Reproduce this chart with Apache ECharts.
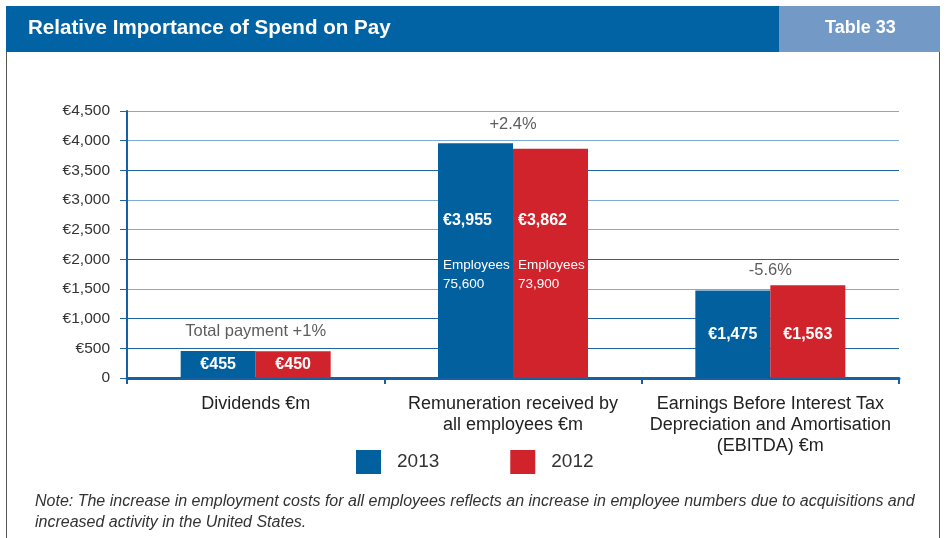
<!DOCTYPE html>
<html><head><meta charset="utf-8">
<script src="https://cdn.jsdelivr.net/npm/echarts@6/dist/echarts.min.js"></script>
<style>html,body{margin:0;padding:0;background:#fff}#c{width:946px;height:538px}</style>
</head><body><div id="c"></div>
<script>
var categories = ['Dividends €m', 'Remuneration received by\nall employees €m', 'Earnings Before Interest Tax\nDepreciation and Amortisation\n(EBITDA) €m'];
var series2013 = [455, 3955, 1475];
var series2012 = [450, 3862, 1563];
var employees2013 = [null, '75,600', null];
var employees2012 = [null, '73,900', null];
var annotations = ['Total payment +1%', '+2.4%', '-5.6%'];
var annotationLevels = [790, 4280, 1820];
var yTicks = [0, 500, 1000, 1500, 2000, 2500, 3000, 3500, 4000, 4500];

var BLUE = '#03609f', RED = '#d1232b';
var DARK = '#1d64a8', LIGHT = '#7eabd5';
var FONT = '"Liberation Sans", Arial, sans-serif';

function fmtEuro(v){ return '€' + v.toLocaleString('en-US'); }

function barData(vals, emp){
  return vals.map(function(v, i){
    if (emp[i]) {
      return { value: v, label: { position: 'insideBottomLeft', distance: 0, offset: [5, -84],
        formatter: '{b|' + fmtEuro(v) + '}\n{e|Employees}\n{e|' + emp[i] + '}',
        rich: { b: { fontSize: 16, fontWeight: 'bold', color: '#fff', fontFamily: FONT, lineHeight: 71 },
                e: { fontSize: 13.5, fontWeight: 'normal', color: '#fff', fontFamily: FONT, lineHeight: 19 } } } };
    }
    if (i === 2) {
      return { value: v, label: { position: 'insideBottom', distance: 0, offset: [0, -35] } };
    }
    return { value: v };
  });
}

var chart = echarts.init(document.getElementById('c'));
chart.setOption({
  animation: false,
  textStyle: { fontFamily: FONT },
  graphic: [
    { type: 'rect', shape: { x: 6, y: 6, width: 773, height: 46 }, style: { fill: '#0263a4' } },
    { type: 'rect', shape: { x: 779, y: 6, width: 161, height: 46 }, style: { fill: '#7399c6' } },
    { type: 'text', left: 28, top: 18, style: { text: 'Relative Importance of Spend on Pay', fill: '#fff', font: 'bold 20.6px ' + FONT } },
    { type: 'text', left: 825, top: 19, style: { text: 'Table 33', fill: '#fff', font: 'bold 18px ' + FONT } },
    { type: 'line', shape: { x1: 6.5, y1: 52, x2: 6.5, y2: 538 }, style: { stroke: '#555', lineWidth: 1 } },
    { type: 'line', shape: { x1: 939.5, y1: 52, x2: 939.5, y2: 538 }, style: { stroke: '#555', lineWidth: 1 } },
    { type: 'text', left: 35, top: 491, style: { text: 'Note: The increase in employment costs for all employees reflects an increase in employee numbers due to acquisitions and\nincreased activity in the United States.', fill: '#333', font: 'italic 16px ' + FONT, lineHeight: 21 } }
  ],
  legend: {
    left: 351, top: 445, itemWidth: 25, itemHeight: 24, itemGap: 71, icon: 'rect',
    textStyle: { fontSize: 19, color: '#333', padding: [0, 0, 0, 11] },
    data: ['2013', '2012']
  },
  grid: { left: 127, right: 47, top: 111, bottom: 160, containLabel: false },
  xAxis: {
    type: 'category', data: categories,
    axisLine: { lineStyle: { color: '#1660a3', width: 3 } },
    axisTick: { show: true, length: 6, lineStyle: { color: '#1660a3', width: 2 } },
    axisLabel: { color: '#222', fontSize: 18, lineHeight: 21, margin: 16, interval: 0 }
  },
  yAxis: {
    type: 'value', min: 0, max: 4500, interval: 500,
    axisLine: { show: true, lineStyle: { color: '#1660a3', width: 2 } },
    axisTick: { show: true, length: 7, lineStyle: { color: DARK } },
    splitLine: { lineStyle: { color: [DARK, DARK, DARK, LIGHT, DARK, LIGHT, LIGHT, DARK, LIGHT, LIGHT], width: 1 } },
    axisLabel: { color: '#333', fontSize: 15.5, margin: 17,
      formatter: function(v){ return v === 0 ? '0' : fmtEuro(v); } }
  },
  series: [
    { name: '2013', type: 'bar', data: barData(series2013, employees2013), barWidth: 75, barGap: '0%',
      itemStyle: { color: BLUE },
      label: { show: true, position: 'inside', color: '#fff', fontSize: 16, fontWeight: 'bold', formatter: function(p){ return fmtEuro(p.value); } } },
    { name: '2012', type: 'bar', data: barData(series2012, employees2012), barWidth: 75, barGap: '0%',
      itemStyle: { color: RED },
      label: { show: true, position: 'inside', color: '#fff', fontSize: 16, fontWeight: 'bold', formatter: function(p){ return fmtEuro(p.value); } } },
    { name: 'note', type: 'scatter', symbolSize: 0, silent: true,
      data: annotationLevels.map(function(v, i){ return [i, v]; }),
      label: { show: true, position: 'inside', color: '#333', fontSize: 16.5,
        formatter: function(p){ return annotations[p.dataIndex]; } } }
  ]
});
</script></body></html>
